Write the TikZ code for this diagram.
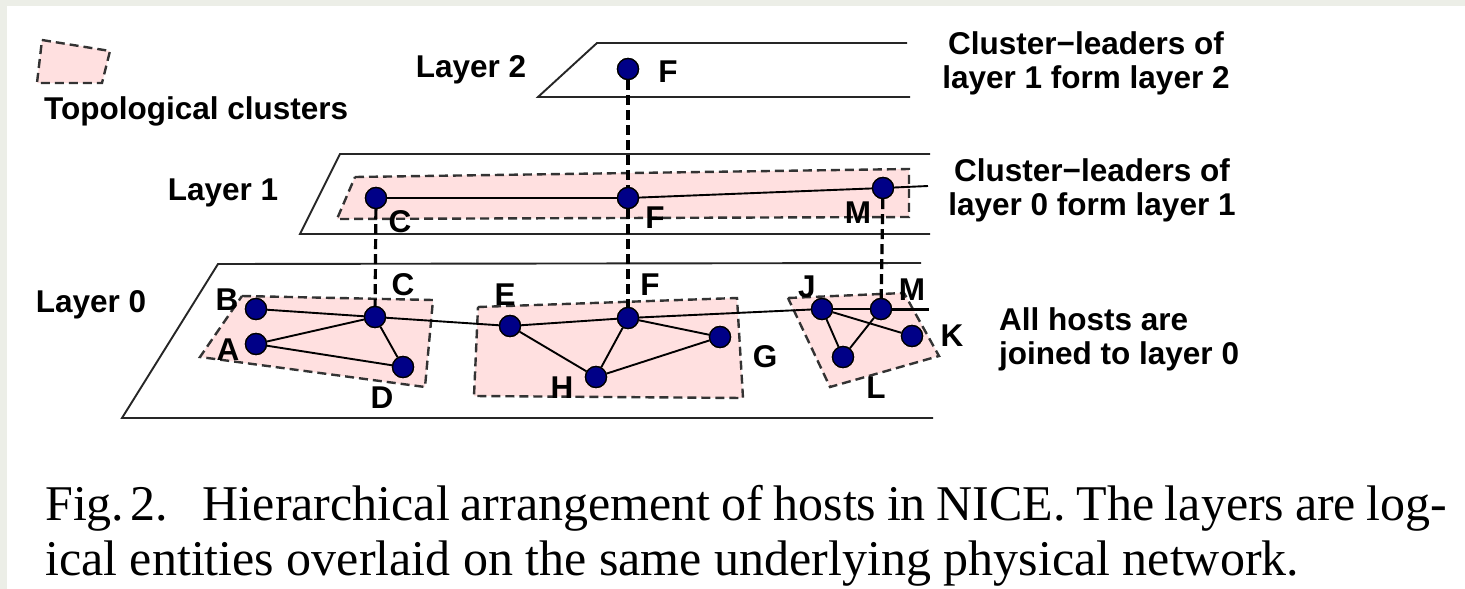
\documentclass[tikz,border=0pt]{standalone}
\usepackage{fontspec}
\setmainfont{Liberation Serif}
\setsansfont{Liberation Sans}
\definecolor{hostblue}{RGB}{0,0,135}
\definecolor{clusterpink}{RGB}{255,224,224}
\definecolor{slidegrey}{RGB}{236,238,231}
\tikzset{
  plane/.style={draw=black!85, line width=1.9pt},
  cluster/.style={fill=clusterpink, draw=black!80, line width=2.4pt, dash pattern=on 9pt off 5pt},
  host/.style={circle, draw=black, line width=1.3pt, fill=hostblue, minimum size=21pt, inner sep=0pt},
  link/.style={draw=black, line width=1.9pt},
  leader/.style={draw=black, line width=3.2pt, dash pattern=on 10pt off 5pt},
  lbl/.style={font=\sffamily\bfseries\fontsize{31.5}{34}\selectfont, inner sep=0pt},
  caption/.style={font=\rmfamily\fontsize{50}{55}\selectfont, inner sep=0pt, anchor=base west}
}
\begin{document}
\begin{tikzpicture}[x=1pt, y=-1pt]
% page and slide margin
\useasboundingbox (0,0) rectangle (1465,589);
\fill[slidegrey] (0,0) rectangle (1465,589);
\fill[white] (7,6) rectangle (1465,589);

% legend
\filldraw[cluster] (42,40) -- (110,51) -- (102,83) -- (37,83) -- cycle;
\node[lbl, anchor=west] (legend) at (44,111) {Topological clusters};

% the three layer planes (open on the right)
\draw[plane] (907,43) -- (597,43) -- (538,97) -- (910,97);
\draw[plane] (930,154) -- (340,154) -- (300,234) -- (930,234);
\draw[plane] (921,263) -- (218,264) -- (122,418) -- (933,418);

\node[lbl] (t2) at (471,70) {Layer 2};
\node[lbl] (t1) at (223,193) {Layer 1};
\node[lbl] (t0) at (91,305) {Layer 0};

% topological clusters
\filldraw[cluster] (355,177) -- (909,169) -- (909,217) -- (337,219) -- cycle;
\filldraw[cluster] (242,296) -- (433,300) -- (425,387) -- (200,357) -- cycle;
\filldraw[cluster] (478,307) -- (737,298) -- (743,398) -- (474,396) -- cycle;
\filldraw[cluster] (788,298) -- (904,293) -- (939,356) -- (830,387) -- cycle;

% hosts
\node[host] (F2) at (628,69) {};
\node[host] (C1) at (376,198) {};
\node[host] (F1) at (628,198) {};
\node[host] (M1) at (883,188) {};
\node[host] (B) at (256,309) {};
\node[host] (A) at (256,344) {};
\node[host] (C0) at (375,317) {};
\node[host] (D) at (403,367) {};
\node[host] (E) at (510,326) {};
\node[host] (F0) at (628,318) {};
\node[host] (G) at (720,337) {};
\node[host] (H) at (596,377) {};
\node[host] (J) at (822,309) {};
\node[host] (M0) at (881,309) {};
\node[host] (K) at (912,336) {};
\node[host] (L) at (843,357) {};
\coordinate (m1end) at (928,186);
\coordinate (m0end) at (929,309);

% layer 1 links
\draw[link] (C1) -- (F1) -- (M1) -- (m1end);
% layer 0 links
\draw[link] (B) -- (C0) -- (E) -- (F0) -- (J) -- (M0);
\draw[link, line width=3pt] (M0) -- (m0end);
\draw[link] (A) -- (C0) -- (D) -- (A);
\draw[link] (E) -- (H) -- (F0) -- (G) -- (H);
\draw[link] (J) -- (L) -- (M0);
\draw[link] (J) -- (K);

% cluster leaders carried up to the next layer
\draw[leader] (F2) -- (F1);
\draw[leader] (F1) -- (F0);
\draw[leader] (C1) -- (C0);
\draw[leader] (M1) -- (M0);

% redraw hosts on top of the links
\foreach \h in {F2,C1,F1,M1,B,A,C0,D,E,F0,G,H,J,M0,K,L}
  \node[host] at (\h) {};

% host labels
\node[lbl] (lF2) at (668,72) {F};
\node[lbl] (lC1) at (400,222) {C};
\node[lbl] (lF1) at (655,218) {F};
\node[lbl] (lM1) at (858,213) {M};
\node[lbl] (lB) at (227,300) {B};
\node[lbl] (lA) at (228,350) {A};
\node[lbl] (lC0) at (403,285) {C};
\node[lbl] (lD) at (382,398) {D};
\node[lbl] (lE) at (505,295) {E};
\node[lbl] (lF0) at (650,285) {F};
\node[lbl] (lG) at (765,357) {G};
\node[lbl] (lH) at (562,388) {H};
\node[lbl] (lJ) at (807,287) {J};
\node[lbl] (lM0) at (912,290) {M};
\node[lbl] (lK) at (952,336) {K};
\node[lbl] (lL) at (876,388) {L};

% side notes
\node[lbl, align=center] (n2) at (1086,63) {Cluster−leaders of\\layer 1 form layer 2};
\node[lbl, align=center] (n1) at (1092,190) {Cluster−leaders of\\layer 0 form layer 1};
\node[lbl, align=left, anchor=west] (n0) at (999,339) {All hosts are\\joined to layer 0};

% caption
\node[caption] (cap1) at (45,520) {\makebox[1402pt][s]{\spaceskip=0.1em plus 0.5em minus 0.05em Fig.\kern0.12em2.\hspace{0.7em}Hierarchical arrangement of hosts in NICE. The layers are log-}};
\node[caption] (cap2) at (45,575) {ical entities overlaid on the same underlying physical network.};
\end{tikzpicture}
\end{document}
